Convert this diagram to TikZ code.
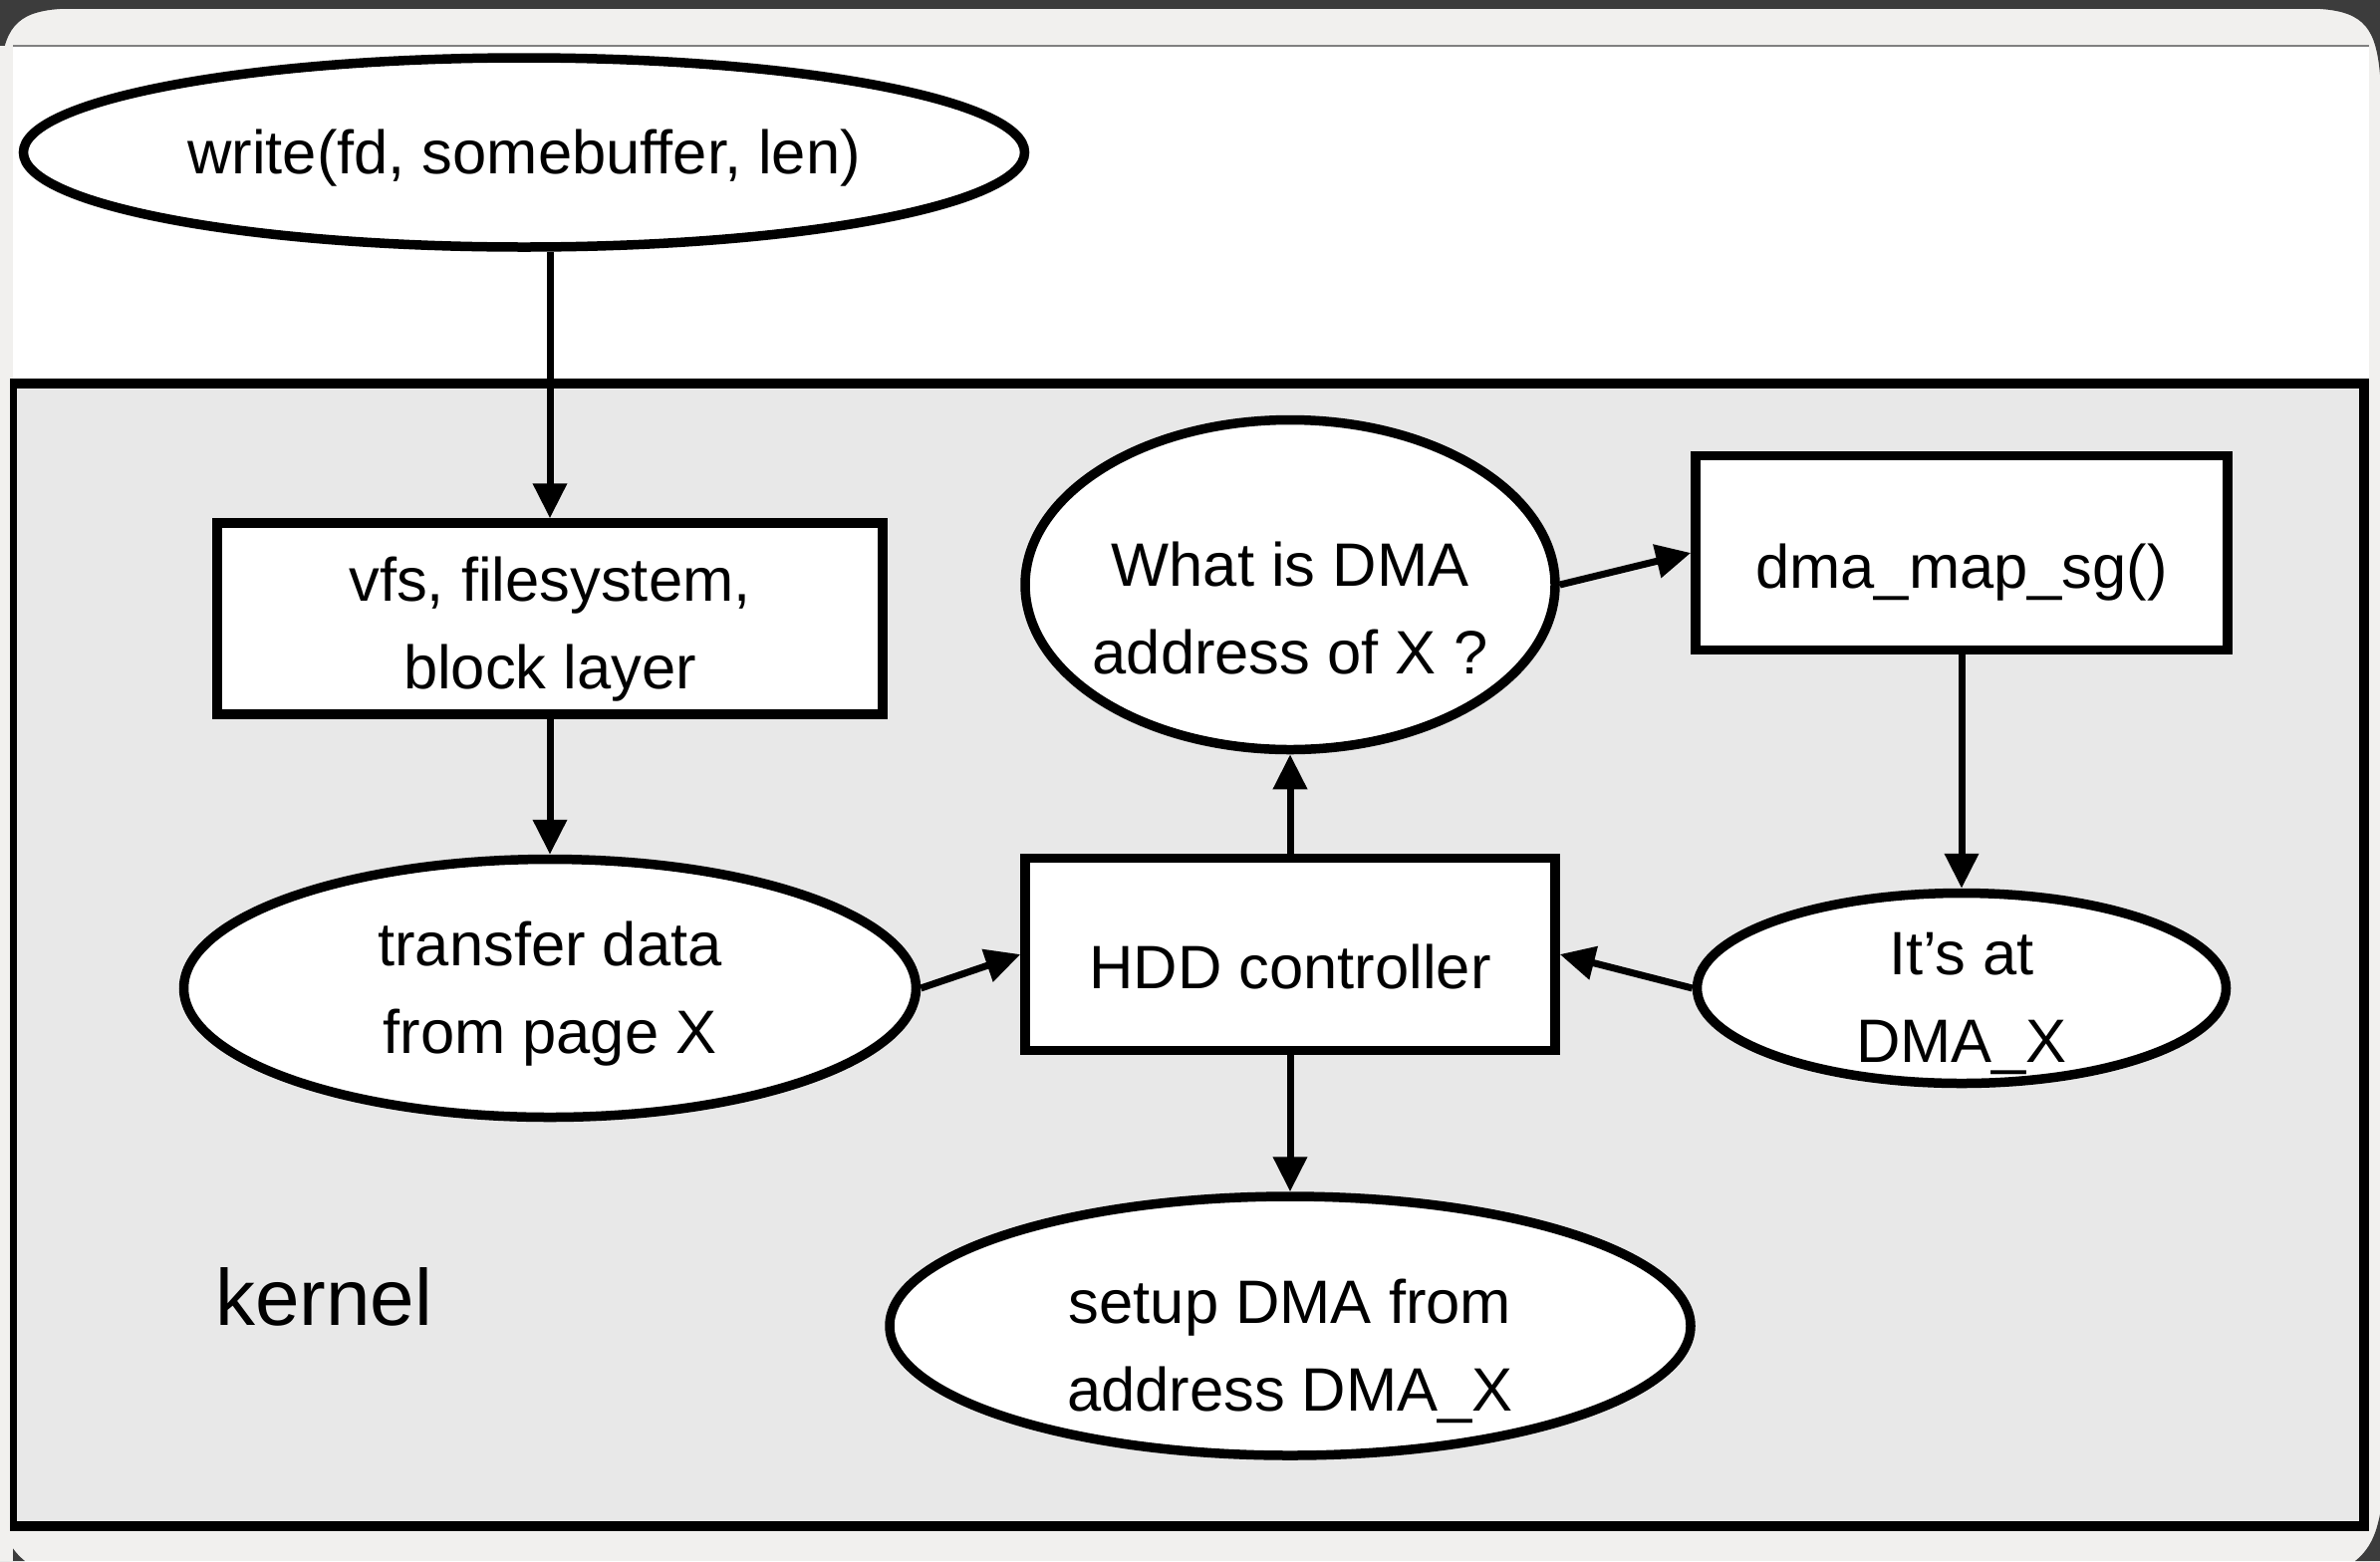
\documentclass[tikz,border=0pt]{standalone}
\usepackage{fontspec}
\setmainfont{Liberation Sans}
\usetikzlibrary{arrows.meta,shapes.geometric}
\definecolor{kgrey}{HTML}{E8E8E8}
\definecolor{barc}{HTML}{3C3C3C}
\definecolor{stripc}{HTML}{F1F0EE}
% text lowered by #1 pt without changing the node's size
\newcommand\lowtext[2]{\raisebox{-#1pt}[\height][\depth]{\begin{tabular}{@{}c@{}}#2\end{tabular}}}
\begin{document}
\begin{tikzpicture}[x=1pt,y=-1pt,
  every node/.style={font=\fontsize{61.5}{88}\selectfont, align=center, inner sep=0pt},
  boxnode/.style={draw, line width=9.5pt, fill=white, rectangle, inner sep=-100pt},
  ellnode/.style={draw, line width=9.5pt, fill=white, ellipse, inner sep=-100pt},
  conn/.style={line width=7pt, -{Triangle[length=35pt,width=33pt]}}]
\useasboundingbox (0,0) rectangle (2389,1567);
% screen frame
\fill[stripc] (0,0) rectangle (2389,1567);
\fill[white] (13,46) rectangle (2378,1528);
\draw[gray, line width=1.5pt] (13,46) -- (2378,46);
\fill[barc] (0,0) rectangle (2389,9);
\fill[barc] (0,0) -- (0,75) .. controls (4,30) and (15,12) .. (60,9) -- (60,0) -- cycle;
\fill[barc] (2389,0) -- (2389,75) .. controls (2385,30) and (2374,12) .. (2329,9) -- (2329,0) -- cycle;
\fill[barc] (0,1567) -- (0,1520) .. controls (4,1540) and (10,1555) .. (25,1567) -- cycle;
\fill[barc] (2389,1567) -- (2389,1520) .. controls (2385,1540) and (2379,1555) .. (2364,1567) -- cycle;
% kernel area
\draw[line width=10pt, fill=kgrey] (12,385) rectangle (2373,1532);
\fill[stripc] (0,1538) rectangle (13,1567);
\fill[stripc] (0,46) rectangle (10,1538);
% nodes
\node[ellnode, minimum width=1005pt, minimum height=190pt] (write) at (526,153) {\lowtext{4}{write(fd, somebuffer, len)}};
\node[boxnode, minimum width=668pt, minimum height=192pt] (vfs) at (552,621) {\lowtext{9}{vfs, filesystem,\\block layer}};
\node[ellnode, minimum width=735pt, minimum height=259pt] (transfer) at (552,992) {\lowtext{4}{transfer data\\from page X}};
\node[boxnode, minimum width=532pt, minimum height=193pt] (hdd) at (1295,958) {\lowtext{17}{HDD controller}};
\node[ellnode, minimum width=532pt, minimum height=331pt] (what) at (1295,587) {\lowtext{28}{What is DMA\\address of X ?}};
\node[boxnode, minimum width=534pt, minimum height=195pt] (dma) at (1969,555) {\lowtext{18}{dma\_map\_sg()}};
\node[ellnode, minimum width=531pt, minimum height=191pt] (itsat) at (1969,992) {\lowtext{13}{It’s at\\DMA\_X}};
\node[ellnode, minimum width=804pt, minimum height=260pt] (setup) at (1295,1331) {\lowtext{24}{setup DMA from\\address DMA\_X}};
\node[anchor=base west, font=\fontsize{80}{96}\selectfont] (kernel) at (216,1330) {kernel};
% connectors
\draw[conn] (vfs.north |- write.south) -- (vfs.north);
\draw[conn] (vfs.south) -- (transfer.north);
\draw[conn] (transfer.east) -- (hdd.west);
\draw[conn] (hdd.north) -- (what.south);
\draw[conn] (what.east) -- (dma.west);
\draw[conn] (dma.south) -- (itsat.north);
\draw[conn] (itsat.west) -- (hdd.east);
\draw[conn] (hdd.south) -- (setup.north);
\end{tikzpicture}
\end{document}
